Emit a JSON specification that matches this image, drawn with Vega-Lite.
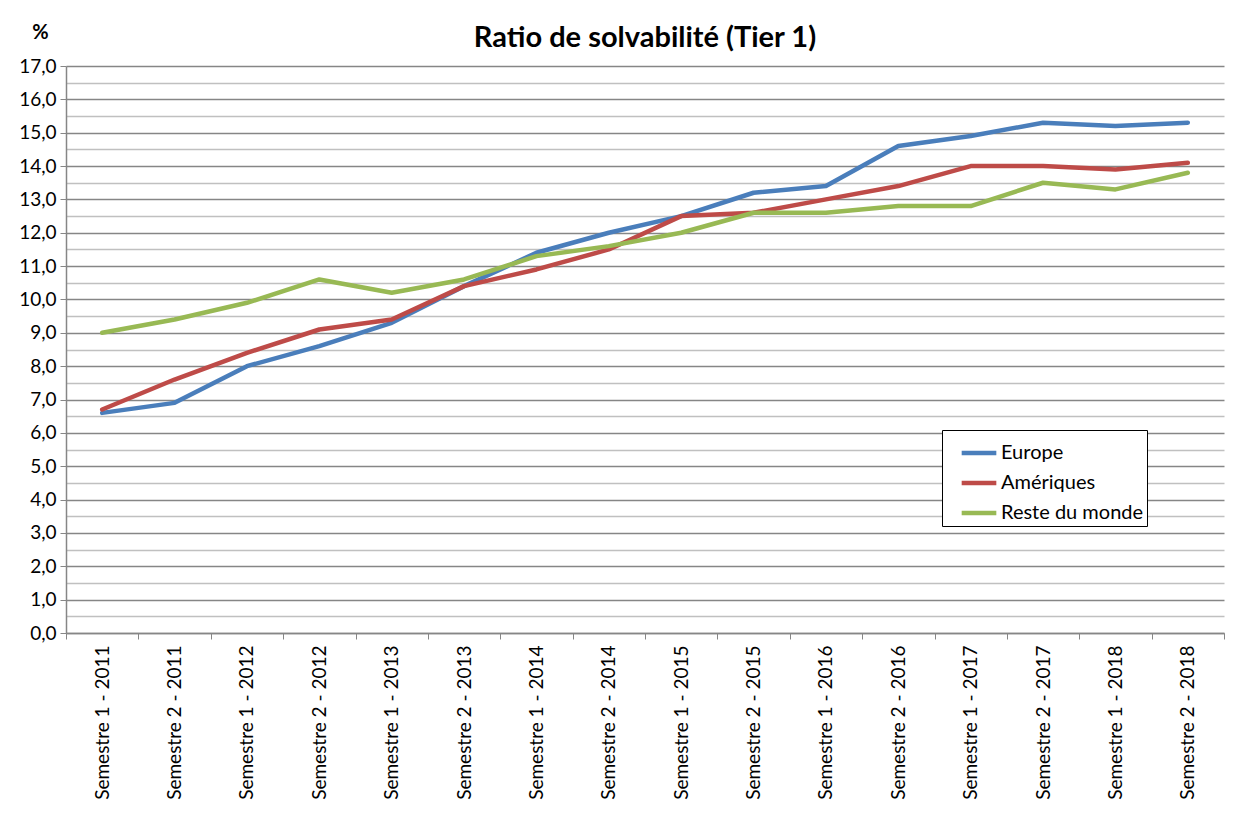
{
  "$schema": "https://vega.github.io/schema/vega-lite/v6.json",
  "autosize": {"type": "none"},
  "width": 1158,
  "height": 567,
  "padding": {"left": 66, "top": 66, "right": 34, "bottom": 193},
  "background": "white",
  "title": {
    "text": "Ratio de solvabilité (Tier 1)",
    "font": "Lato",
    "fontSize": 29,
    "fontWeight": "bold",
    "color": "#000000",
    "anchor": "middle",
    "offset": -31
  },
  "data": {
    "values": [
      {"p": "Semestre 1 - 2011", "s": "Europe", "v": 6.6},
      {"p": "Semestre 2 - 2011", "s": "Europe", "v": 6.9},
      {"p": "Semestre 1 - 2012", "s": "Europe", "v": 8.0},
      {"p": "Semestre 2 - 2012", "s": "Europe", "v": 8.6},
      {"p": "Semestre 1 - 2013", "s": "Europe", "v": 9.3},
      {"p": "Semestre 2 - 2013", "s": "Europe", "v": 10.4},
      {"p": "Semestre 1 - 2014", "s": "Europe", "v": 11.4},
      {"p": "Semestre 2 - 2014", "s": "Europe", "v": 12.0},
      {"p": "Semestre 1 - 2015", "s": "Europe", "v": 12.5},
      {"p": "Semestre 2 - 2015", "s": "Europe", "v": 13.2},
      {"p": "Semestre 1 - 2016", "s": "Europe", "v": 13.4},
      {"p": "Semestre 2 - 2016", "s": "Europe", "v": 14.6},
      {"p": "Semestre 1 - 2017", "s": "Europe", "v": 14.9},
      {"p": "Semestre 2 - 2017", "s": "Europe", "v": 15.3},
      {"p": "Semestre 1 - 2018", "s": "Europe", "v": 15.2},
      {"p": "Semestre 2 - 2018", "s": "Europe", "v": 15.3},
      {"p": "Semestre 1 - 2011", "s": "Amériques", "v": 6.7},
      {"p": "Semestre 2 - 2011", "s": "Amériques", "v": 7.6},
      {"p": "Semestre 1 - 2012", "s": "Amériques", "v": 8.4},
      {"p": "Semestre 2 - 2012", "s": "Amériques", "v": 9.1},
      {"p": "Semestre 1 - 2013", "s": "Amériques", "v": 9.4},
      {"p": "Semestre 2 - 2013", "s": "Amériques", "v": 10.4},
      {"p": "Semestre 1 - 2014", "s": "Amériques", "v": 10.9},
      {"p": "Semestre 2 - 2014", "s": "Amériques", "v": 11.5},
      {"p": "Semestre 1 - 2015", "s": "Amériques", "v": 12.5},
      {"p": "Semestre 2 - 2015", "s": "Amériques", "v": 12.6},
      {"p": "Semestre 1 - 2016", "s": "Amériques", "v": 13.0},
      {"p": "Semestre 2 - 2016", "s": "Amériques", "v": 13.4},
      {"p": "Semestre 1 - 2017", "s": "Amériques", "v": 14.0},
      {"p": "Semestre 2 - 2017", "s": "Amériques", "v": 14.0},
      {"p": "Semestre 1 - 2018", "s": "Amériques", "v": 13.9},
      {"p": "Semestre 2 - 2018", "s": "Amériques", "v": 14.1},
      {"p": "Semestre 1 - 2011", "s": "Reste du monde", "v": 9.0},
      {"p": "Semestre 2 - 2011", "s": "Reste du monde", "v": 9.4},
      {"p": "Semestre 1 - 2012", "s": "Reste du monde", "v": 9.9},
      {"p": "Semestre 2 - 2012", "s": "Reste du monde", "v": 10.6},
      {"p": "Semestre 1 - 2013", "s": "Reste du monde", "v": 10.2},
      {"p": "Semestre 2 - 2013", "s": "Reste du monde", "v": 10.6},
      {"p": "Semestre 1 - 2014", "s": "Reste du monde", "v": 11.3},
      {"p": "Semestre 2 - 2014", "s": "Reste du monde", "v": 11.6},
      {"p": "Semestre 1 - 2015", "s": "Reste du monde", "v": 12.0},
      {"p": "Semestre 2 - 2015", "s": "Reste du monde", "v": 12.6},
      {"p": "Semestre 1 - 2016", "s": "Reste du monde", "v": 12.6},
      {"p": "Semestre 2 - 2016", "s": "Reste du monde", "v": 12.8},
      {"p": "Semestre 1 - 2017", "s": "Reste du monde", "v": 12.8},
      {"p": "Semestre 2 - 2017", "s": "Reste du monde", "v": 13.5},
      {"p": "Semestre 1 - 2018", "s": "Reste du monde", "v": 13.3},
      {"p": "Semestre 2 - 2018", "s": "Reste du monde", "v": 13.8}
    ]
  },
  "mark": {"type": "line", "strokeWidth": 4.5, "strokeCap": "round", "strokeJoin": "round"},
  "encoding": {
    "x": {
      "field": "p",
      "type": "nominal",
      "sort": null,
      "bandPosition": 0.5,
      "scale": {"type": "band", "paddingInner": 0, "paddingOuter": 0},
      "axis": {
        "title": null,
        "labelAngle": -90,
        "labelAlign": "right",
        "labelBaseline": "middle",
        "labelFont": "Lato",
        "labelFontSize": 19,
        "labelColor": "#000000",
        "labelPadding": 6,
        "tickBand": "extent",
        "tickSize": 6,
        "tickColor": "#868686",
        "domainColor": "#868686",
        "domainWidth": 1.5,
        "grid": false
      }
    },
    "y": {
      "field": "v",
      "type": "quantitative",
      "scale": {"domain": [0, 17], "nice": false},
      "axis": {
        "title": "%",
        "titleAngle": 0,
        "titleX": -26,
        "titleY": -28,
        "titleAlign": "center",
        "titleBaseline": "alphabetic",
        "titleFont": "Lato",
        "titleFontSize": 20,
        "titleFontWeight": "bold",
        "titleColor": "#000000",
        "values": [0, 0.5, 1, 1.5, 2, 2.5, 3, 3.5, 4, 4.5, 5, 5.5, 6, 6.5, 7, 7.5, 8, 8.5, 9, 9.5, 10, 10.5, 11, 11.5, 12, 12.5, 13, 13.5, 14, 14.5, 15, 15.5, 16, 16.5, 17],
        "labelExpr": "datum.value % 1 === 0 ? replace(format(datum.value, '.1f'), '.', ',') : ''",
        "labelFont": "Lato",
        "labelFontSize": 19,
        "labelColor": "#000000",
        "labelPadding": 4,
        "tickSize": 6,
        "tickColor": {"condition": {"test": "datum.value % 1 === 0", "value": "#868686"}, "value": "transparent"},
        "domainColor": "#868686",
        "domainWidth": 1.5,
        "grid": true,
        "gridColor": {"condition": {"test": "datum.value % 1 === 0", "value": "#868686"}, "value": "#c0c0c0"},
        "gridWidth": 1.5,
        "gridOpacity": 1
      }
    },
    "color": {
      "field": "s",
      "type": "nominal",
      "scale": {
        "domain": ["Europe", "Amériques", "Reste du monde"],
        "range": ["#4a7ebb", "#be4b48", "#98b954"]
      },
      "legend": {
        "title": null,
        "orient": "none",
        "legendX": 876,
        "legendY": 364,
        "direction": "vertical",
        "fillColor": "white",
        "strokeColor": "#000000",
        "padding": 3,
        "symbolType": "stroke",
        "symbolSize": 1200,
        "symbolOffset": 14,
        "symbolStrokeWidth": 4.5,
        "labelFont": "Lato",
        "labelFontSize": 20,
        "labelColor": "#000000",
        "labelOffset": 2,
        "rowPadding": 0
      }
    }
  },
  "config": {
    "view": {"stroke": null}
  }
}
